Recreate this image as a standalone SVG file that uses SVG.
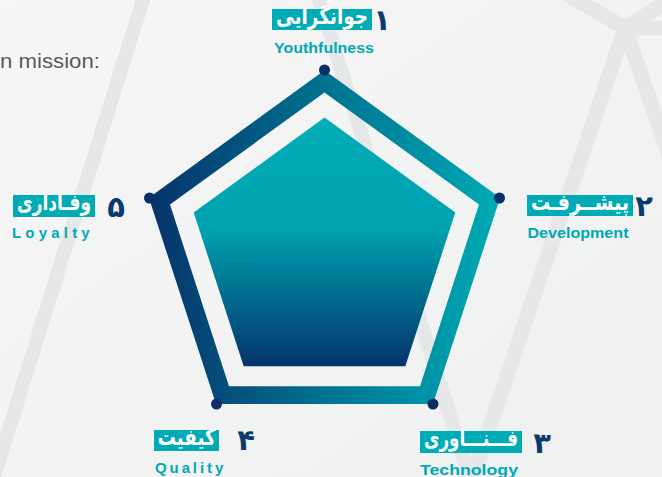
<svg xmlns="http://www.w3.org/2000/svg" width="662" height="477" viewBox="0 0 662 477">
<defs>
<linearGradient id="bg" x1="0" y1="0" x2="1" y2="1">
<stop offset="0" stop-color="#f6f6f6"/>
<stop offset="1" stop-color="#eff0f0"/>
</linearGradient>
<linearGradient id="band" gradientUnits="userSpaceOnUse" x1="150" y1="0" x2="500" y2="0">
<stop offset="0" stop-color="#07336b"/>
<stop offset="0.5" stop-color="#00728f"/>
<stop offset="1" stop-color="#00abb6"/>
</linearGradient>
<linearGradient id="fill" gradientUnits="userSpaceOnUse" x1="0" y1="118" x2="0" y2="366">
<stop offset="0" stop-color="#00adb6"/>
<stop offset="0.45" stop-color="#00a2b0"/>
<stop offset="1" stop-color="#03346a"/>
</linearGradient>
<style>
.bgl{stroke:#e6e7e8;fill:none;stroke-linecap:round}
.box{fill:#00abb5}
.fa{font-family:"DejaVu Sans",sans-serif;font-weight:bold;font-size:19px;fill:#ffffff;text-anchor:middle}
.num{font-family:"DejaVu Sans",sans-serif;font-weight:bold;font-size:29px;fill:#0d3a6e;text-anchor:middle}
.en{font-family:"Liberation Sans",Arial,sans-serif;font-weight:bold;font-size:15.5px;fill:#00a9b4;text-anchor:middle}
.ens{font-family:"Liberation Sans",Arial,sans-serif;font-weight:bold;font-size:15px;fill:#00a9b4}
.dot{fill:#0a2f66}
</style>
</defs>
<rect width="662" height="477" fill="url(#bg)"/>
<g id="background-lines">
<line class="bgl" x1="146" y1="-10" x2="-6" y2="477" stroke-width="14"/>
<line class="bgl" x1="316" y1="-10" x2="471" y2="482" stroke-width="14"/>
<line class="bgl" x1="625" y1="28" x2="471" y2="482" stroke-width="15"/>
<line class="bgl" x1="625" y1="28" x2="570" y2="-4" stroke-width="15"/>
<line class="bgl" x1="625" y1="28" x2="670" y2="0" stroke-width="15"/>
<line class="bgl" x1="625" y1="28" x2="670" y2="28" stroke-width="15"/>
<line class="bgl" x1="625" y1="28" x2="670" y2="158" stroke-width="15"/>
</g>
<text x="0" y="68" font-family="Liberation Sans, Arial, sans-serif" font-size="20" fill="#58595b" textLength="100" lengthAdjust="spacingAndGlyphs">n mission:</text>
<g id="chart">
<path fill="url(#band)" fill-rule="evenodd" d="M324.5,70.2 L500.1,197.8 L433,404.1 L216,404.1 L148.9,197.8 Z M324.5,92.4 L170,204.6 L229,386.2 L420,386.2 L479,204.6 Z"/>
<path fill="url(#fill)" d="M324.5,117.5 L455.3,212.5 L405.3,366.2 L243.7,366.2 L193.7,212.5 Z"/>
</g>
<g id="connectors">
<circle class="dot" cx="324.5" cy="70" r="5.5"/>
<circle class="dot" cx="499.5" cy="198" r="5.5"/>
<circle class="dot" cx="433" cy="404" r="5.5"/>
<circle class="dot" cx="216.5" cy="404" r="5.5"/>
<circle class="dot" cx="149.5" cy="198" r="5.5"/>
</g>
<g id="node-1">
<rect class="box" x="272" y="9" width="100" height="21"/>
<text class="fa" transform="translate(322,23.5) scale(1,1.2)" direction="rtl" textLength="92" lengthAdjust="spacingAndGlyphs">جوانگرایی</text>
<text class="num" x="382" y="30">۱</text>
<text class="en" x="324" y="53" textLength="100" lengthAdjust="spacingAndGlyphs">Youthfulness</text>
</g>
<g id="node-2">
<rect class="box" x="527" y="195" width="106" height="21"/>
<text class="fa" transform="translate(580,209.5) scale(1,1.2)" direction="rtl" textLength="98" lengthAdjust="spacingAndGlyphs">پیشــرفـت</text>
<text class="num" x="644" y="216">۲</text>
<text class="en" x="578" y="238" textLength="101" lengthAdjust="spacingAndGlyphs">Development</text>
</g>
<g id="node-3">
<rect class="box" x="420" y="431" width="102" height="22"/>
<text class="fa" transform="translate(471,446) scale(1,1.2)" direction="rtl" textLength="94" lengthAdjust="spacingAndGlyphs">فـــنـــاوری</text>
<text class="num" x="542" y="453">۳</text>
<text class="en" x="469" y="475" textLength="98" lengthAdjust="spacingAndGlyphs">Technology</text>
</g>
<g id="node-4">
<rect class="box" x="154" y="430" width="65" height="21"/>
<text class="fa" transform="translate(186.5,444.5) scale(1,1.2)" direction="rtl" textLength="58" lengthAdjust="spacingAndGlyphs">کیفیت</text>
<text class="num" x="246" y="450">۴</text>
<text class="ens" x="155" y="473" letter-spacing="2.9">Quality</text>
</g>
<g id="node-5">
<rect class="box" x="13" y="195" width="82" height="22"/>
<text class="fa" transform="translate(54,210) scale(1,1.2)" direction="rtl" textLength="74" lengthAdjust="spacingAndGlyphs">وفـاداری</text>
<text class="num" x="116" y="217">۵</text>
<text class="ens" x="12" y="238" letter-spacing="4.2">Loyalty</text>
</g>
</svg>
